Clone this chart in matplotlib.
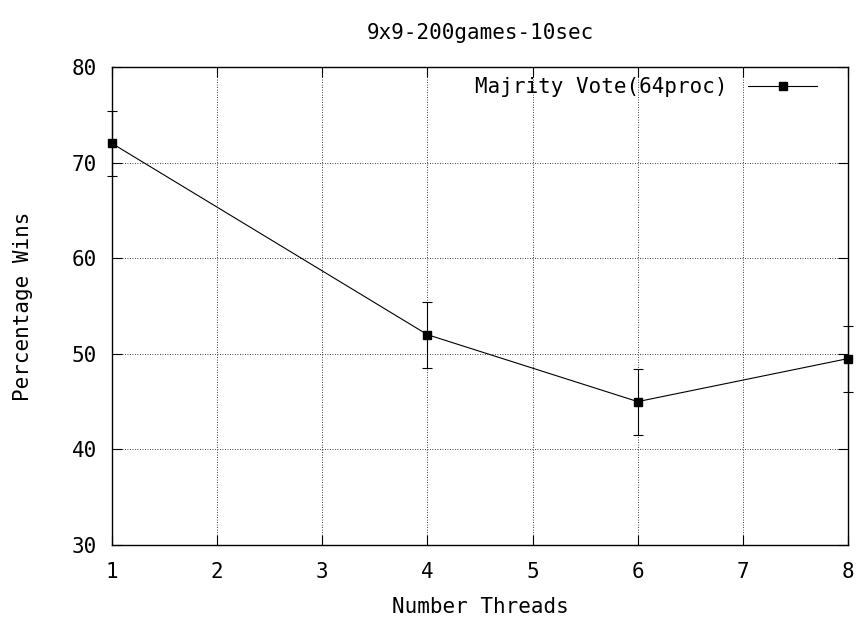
import matplotlib
matplotlib.use('Agg')
import matplotlib.pyplot as plt
from matplotlib.lines import Line2D

plt.rcParams['font.family'] = 'DejaVu Sans Mono'
plt.rcParams['font.size'] = 15

threads = [1, 4, 6, 8]
wins = [72, 52, 45, 49.5]
err = [3.4, 3.45, 3.45, 3.45]
series_name = 'Majrity Vote(64proc)'

fig = plt.figure(figsize=(8.62, 6.19), dpi=100)
ax = fig.add_axes([0.13, 0.1195, 0.8538, 0.7723])

ax.errorbar(threads, wins, yerr=err, color='black', lw=0.8, marker='s', ms=6,
            capsize=3.5, elinewidth=0.8, capthick=0.8,
            clip_on=False, zorder=3)

ax.set_xlim(1, 8)
ax.set_ylim(30, 80)
ax.set_xticks(range(1, 9))
ax.set_yticks(range(30, 90, 10))
ax.grid(True, color='black', linestyle=(0, (1, 2)), lw=0.6)
ax.tick_params(axis='x', direction='in', top=True, length=7, width=0.8, pad=12)
ax.tick_params(axis='y', direction='in', right=True, length=7, width=0.8, pad=11)
for s in ax.spines.values():
    s.set_linewidth(1.0)

ax.set_xlabel('Number Threads', labelpad=11)
ax.set_ylabel('Percentage Wins', labelpad=28)
ax.set_title('9x9-200games-10sec', fontsize=15, pad=20)

handle = Line2D([], [], color='black', lw=0.8, marker='s', ms=6)
ax.legend([handle], [series_name], loc='center right', bbox_to_anchor=(0.958, 0.958),
          frameon=False, markerfirst=False, handlelength=3.3, handletextpad=1.0,
          borderpad=0, borderaxespad=0)

fig.savefig('out.png', dpi=100)
